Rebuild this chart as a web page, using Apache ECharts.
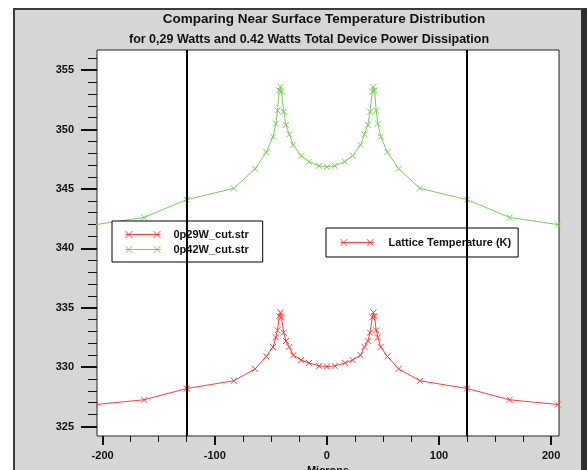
<!DOCTYPE html>
<html>
<head>
<meta charset="utf-8">
<script src="https://cdn.jsdelivr.net/npm/echarts@6/dist/echarts.min.js"></script>
<style>
  body { margin: 0; background: #fff; }
  #frame {
    position: absolute; left: 13px; top: 8px; width: 574px; height: 470px;
    background: #d6d6d6; border-left: 2px solid #3c3c3c; border-top: 2px solid #3c3c3c;
    border-right: 6px solid #2e2e2e; box-sizing: border-box;
  }
  #chart { position: absolute; left: 0; top: 0; width: 587px; height: 470px; }
</style>
</head>
<body>
<div id="frame"></div>
<div id="chart"></div>
<script>
// positions along the cut (microns)
const microns = [
  -206, -163, -125, -83, -64, -54, -48, -45.5, -44, -42.5, -41.5, -40.5, -38.5, -36.5, -33.5, -30, -23, -16, -7,
  0,
  7, 16, 23, 30, 33.5, 36.5, 38.5, 40.5, 41.5, 42.5, 44, 45.5, 48, 54, 64, 83, 125, 163, 206
]
// lattice temperature (K), 0.29 W
const temp029 = [
  326.85, 327.25, 328.2, 328.85, 329.85, 330.9, 331.7, 332.5, 333.1, 334.3, 334.6, 334.2, 332.9, 332.2, 331.7, 331.0, 330.6, 330.35, 330.1,
  330.05,
  330.1, 330.35, 330.6, 331.0, 331.7, 332.2, 332.9, 334.2, 334.6, 334.3, 333.1, 332.5, 331.7, 330.9, 329.85, 328.85, 328.2, 327.25, 326.85
]
// lattice temperature (K), 0.42 W
const temp042 = [
  342.0, 342.6, 344.1, 345.05, 346.7, 348.1, 349.4, 350.5, 351.6, 353.3, 353.6, 353.2, 351.5, 350.4, 349.6, 348.7, 347.8, 347.3, 346.95,
  346.85,
  346.95, 347.3, 347.8, 348.7, 349.6, 350.4, 351.5, 353.2, 353.6, 353.3, 351.6, 350.5, 349.4, 348.1, 346.7, 345.05, 344.1, 342.6, 342.0
]
const xMajor = [-200, -100, 0, 100, 200]
const xMinor = [-200, -175, -150, -125, -100, -75, -50, -25, 0, 25, 50, 75, 100, 125, 150, 175, 200]
const yMajor = [325, 330, 335, 340, 345, 350, 355]
const yMinor = [325, 326, 327, 328, 329, 330, 331, 332, 333, 334, 335, 336, 337, 338, 339, 340,
  341, 342, 343, 344, 345, 346, 347, 348, 349, 350, 351, 352, 353, 354, 355, 356]
const markX = [-125, 125]

const red = '#ff3c3c'
const green = '#7acc5c'
const cross = 'path://M0,0L10,10M10,0L0,10'
const legendIcon = 'path://M0,5L40,5M0,1L8,9M0,9L8,1M32,1L40,9M32,9L40,1'
const font = 'Liberation Sans, Arial, sans-serif'

const pairs = ys => microns.map((x, i) => [x, ys[i]])

function lineSeries(name, color, ys) {
  return {
    name: name,
    type: 'line',
    data: ys ? pairs(ys) : [],
    symbol: cross,
    symbolSize: 6,
    color: color,
    itemStyle: {color: color, borderColor: color, borderWidth: 1},
    lineStyle: {color: color, width: 1},
    animation: false
  }
}

const series = [
  lineSeries('0p29W_cut.str', red, temp029),
  lineSeries('0p42W_cut.str', green, temp042),
  lineSeries('Lattice Temperature (K)', red, null)
]
series[0].markLine = {
  silent: true,
  symbol: 'none',
  label: {show: false},
  lineStyle: {color: '#000', width: 2, type: 'solid'},
  data: markX.map(v => ({xAxis: v}))
}

const legendBase = {
  orient: 'vertical',
  backgroundColor: '#fff',
  borderColor: '#000',
  borderWidth: 1,
  borderRadius: 0,
  itemWidth: 35,
  itemHeight: 8,
  icon: legendIcon,
  itemStyle: {borderWidth: 1, borderColor: 'inherit'},
  textStyle: {fontFamily: font, fontSize: 11, fontWeight: 'bold', color: '#111', padding: [0, 0, 0, 8]},
  selectedMode: false
}

const chart = echarts.init(document.getElementById('chart'))
chart.setOption({
  animation: false,
  title: [
    {
      text: 'Comparing Near Surface Temperature Distribution',
      left: 319, top: 7, textAlign: 'center',
      textStyle: {fontFamily: font, fontSize: 13.5, fontWeight: 'bold', color: '#111'}
    },
    {
      text: 'for 0,29 Watts and 0.42 Watts Total Device Power Dissipation',
      left: 304, top: 28, textAlign: 'center',
      textStyle: {fontFamily: font, fontSize: 12.5, fontWeight: 'bold', color: '#111'}
    }
  ],
  legend: [
    Object.assign({}, legendBase, {
      data: ['0p29W_cut.str', '0p42W_cut.str'],
      left: 112, top: 221, padding: [8, 14, 7, 13], itemGap: 4
    }),
    Object.assign({}, legendBase, {
      data: ['Lattice Temperature (K)'],
      left: 326, top: 228, padding: [9, 7, 9, 14], itemWidth: 33,
      textStyle: Object.assign({}, legendBase.textStyle, {padding: [0, 0, 0, 10]})
    })
  ],
  grid: {
    left: 97, right: 28, top: 50, bottom: 34,
    outerBoundsMode: 'none',
    show: true, backgroundColor: '#fff', borderColor: '#222', borderWidth: 1
  },
  xAxis: [
    {
      type: 'value', min: -205, max: 207, position: 'bottom',
      splitLine: {show: false},
      axisLine: {show: false, onZero: false},
      axisTick: {show: true, length: 9, customValues: xMajor, lineStyle: {color: '#111', width: 2}},
      axisLabel: {
        customValues: xMajor, margin: 14,
        fontFamily: font, fontSize: 11, fontWeight: 'bold', color: '#111'
      },
      name: 'Microns', nameLocation: 'middle', nameGap: 22,
      nameTextStyle: {fontFamily: font, fontSize: 11, fontWeight: 'bold', color: '#111'}
    },
    {
      type: 'value', min: -205, max: 207, position: 'bottom',
      splitLine: {show: false},
      axisLine: {show: false, onZero: false},
      axisTick: {show: true, length: 6, customValues: xMinor, lineStyle: {color: '#111', width: 1}},
      axisLabel: {show: false}
    }
  ],
  yAxis: [
    {
      type: 'value', min: 324.2, max: 356.7, position: 'left',
      splitLine: {show: false},
      axisLine: {show: false, onZero: false},
      axisTick: {show: true, length: 16, customValues: yMajor, lineStyle: {color: '#111', width: 2}},
      axisLabel: {
        customValues: yMajor, margin: 23,
        fontFamily: font, fontSize: 11, fontWeight: 'bold', color: '#111'
      }
    },
    {
      type: 'value', min: 324.2, max: 356.7, position: 'left',
      splitLine: {show: false},
      axisLine: {show: false, onZero: false},
      axisTick: {show: true, length: 9, customValues: yMinor, lineStyle: {color: '#111', width: 1}},
      axisLabel: {show: false}
    }
  ],
  series: series
})
</script>
</body>
</html>
